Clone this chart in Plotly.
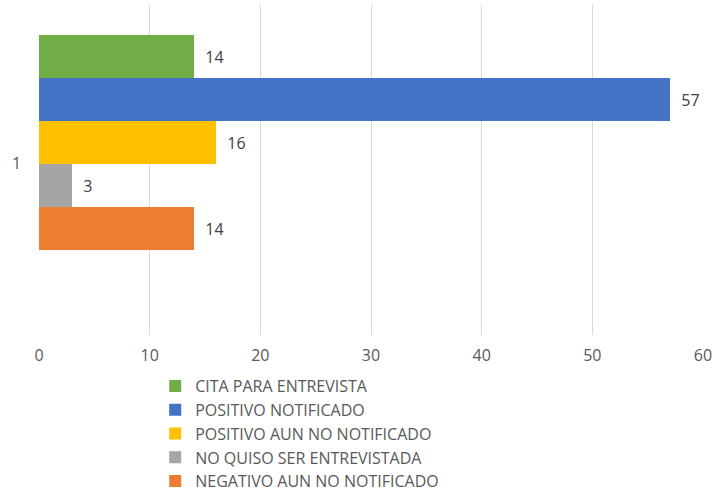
import plotly.graph_objects as go

categories = ["1"]
series_names = [
    "CITA PARA ENTREVISTA",
    "POSITIVO NOTIFICADO",
    "POSITIVO AUN NO NOTIFICADO",
    "NO QUISO SER ENTREVISTADA",
    "NEGATIVO AUN NO NOTIFICADO",
]
series_values = [14, 57, 16, 3, 14]
series_colors = ["#70AD47", "#4472C4", "#FFC000", "#A5A5A5", "#ED7D31"]
x_ticks = [0, 10, 20, 30, 40, 50, 60]

font_family = "'Open Sans', sans-serif"

fig = go.Figure()
for name, val, col in zip(series_names, series_values, series_colors):
    fig.add_trace(go.Bar(
        y=categories, x=[val], name=name, orientation="h",
        legendgroup=name,
        marker=dict(color=col, line=dict(width=0)),
        text=[str(val)], texttemplate="\u00a0\u00a0%{text}",
        textposition="outside",
        textfont=dict(size=16, color="#404040", family=font_family),
        cliponaxis=False,
    ))

fig.update_layout(
    width=712, height=492,
    margin=dict(l=39, r=9, t=5, b=157, autoexpand=False),
    plot_bgcolor="white", paper_bgcolor="white",
    barmode="group", bargap=0, bargroupgap=0,
    font=dict(family=font_family, size=16, color="#595959"),
    showlegend=True,
    legend=dict(
        orientation="v", xref="container", yref="container",
        x=0.218, xanchor="left", y=0.250, yanchor="top",
        font=dict(size=16, color="#595959"),
        itemwidth=30, tracegroupgap=6.5, traceorder="normal",
    ),
    xaxis=dict(
        range=[0, 60], tickvals=x_ticks, showgrid=True, gridcolor="#D9D9D9",
        gridwidth=1, zeroline=False, showline=False, ticks="",
        tickfont=dict(size=16, color="#595959"), automargin=False,
        ticklabelstandoff=9, ticklabeloverflow="allow",
    ),
    yaxis=dict(
        type="category", range=[0.895, -0.6395], showticklabels=False,
        showgrid=False, zeroline=False, showline=False, ticks="",
        automargin=False,
    ),
    annotations=[dict(
        x=0, xref="paper", xanchor="right", xshift=-16,
        y=0.095, yref="y", text=categories[0], showarrow=False,
        font=dict(size=16, color="#595959"),
    )],
)

fig.write_html("out.html", post_script="document.body.style.margin='0';",
               config={"displayModeBar": False})
